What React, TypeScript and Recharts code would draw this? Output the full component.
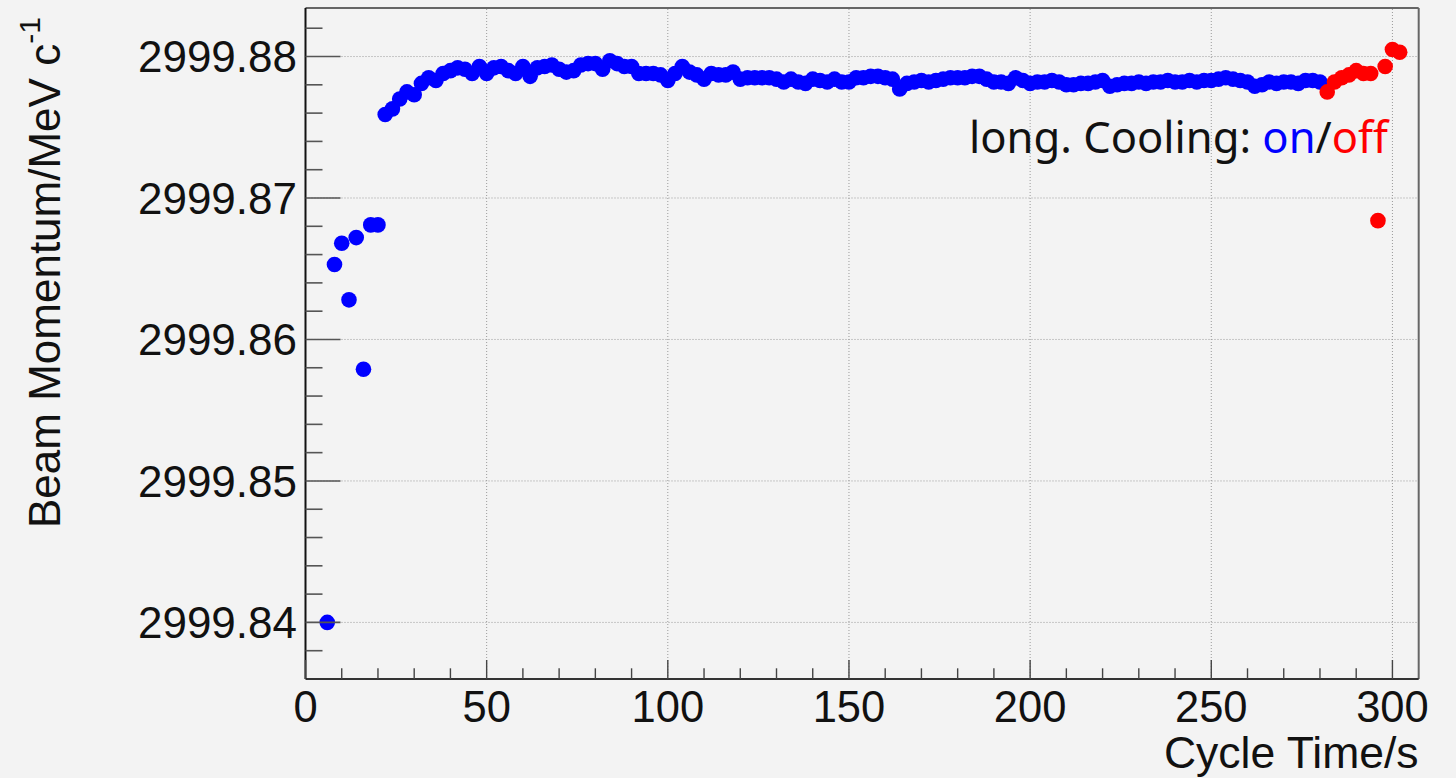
import React from 'react';
import { ScatterChart, Scatter, XAxis, YAxis, ReferenceLine } from 'recharts';

// ---- data ----
const onTimes = [
  6, 8, 10, 12, 14, 16, 18, 20, 22, 24, 26, 28, 30, 32, 34, 36, 38, 40, 42, 44,
  46, 48, 50, 52, 54, 56, 58, 60, 62, 64, 66, 68, 70, 72, 74, 76, 78, 80, 82, 84,
  86, 88, 90, 92, 94, 96, 98, 100, 102, 104, 106, 108, 110, 112, 114, 116, 118, 120, 122, 124,
  126, 128, 130, 132, 134, 136, 138, 140, 142, 144, 146, 148, 150, 152, 154, 156, 158, 160, 162, 164,
  166, 168, 170, 172, 174, 176, 178, 180, 182, 184, 186, 188, 190, 192, 194, 196, 198, 200, 202, 204,
  206, 208, 210, 212, 214, 216, 218, 220, 222, 224, 226, 228, 230, 232, 234, 236, 238, 240, 242, 244,
  246, 248, 250, 252, 254, 256, 258, 260, 262, 264, 266, 268, 270, 272, 274, 276, 278, 280,
];
const onMomentum = [
  2999.8400, 2999.8653, 2999.8668, 2999.8628, 2999.8672, 2999.8579, 2999.8681, 2999.8681, 2999.8759, 2999.8763,
  2999.8770, 2999.8775, 2999.8773, 2999.8781, 2999.8785, 2999.8783, 2999.8788, 2999.8790, 2999.8792, 2999.8791,
  2999.8788, 2999.8793, 2999.8788, 2999.8792, 2999.8793, 2999.8790, 2999.8788, 2999.8793, 2999.8786, 2999.8792,
  2999.8793, 2999.8794, 2999.8791, 2999.8789, 2999.8790, 2999.8794, 2999.8795, 2999.8795, 2999.8791, 2999.8797,
  2999.8795, 2999.8793, 2999.8793, 2999.8788, 2999.8788, 2999.8788, 2999.8787, 2999.8783, 2999.8788, 2999.8793,
  2999.8789, 2999.8787, 2999.8784, 2999.8788, 2999.8787, 2999.8787, 2999.8789, 2999.8784, 2999.8785, 2999.8785,
  2999.8785, 2999.8785, 2999.8784, 2999.8782, 2999.8784, 2999.8782, 2999.8781, 2999.8784, 2999.8783, 2999.8782,
  2999.8784, 2999.8782, 2999.8782, 2999.8785, 2999.8785, 2999.8786, 2999.8786, 2999.8785, 2999.8784, 2999.8777,
  2999.8781, 2999.8782, 2999.8783, 2999.8782, 2999.8783, 2999.8784, 2999.8785, 2999.8785, 2999.8785, 2999.8786,
  2999.8786, 2999.8784, 2999.8782, 2999.8782, 2999.8781, 2999.8785, 2999.8783, 2999.8781, 2999.8782, 2999.8782,
  2999.8783, 2999.8782, 2999.8780, 2999.8780, 2999.8781, 2999.8781, 2999.8782, 2999.8783, 2999.8779, 2999.8780,
  2999.8781, 2999.8781, 2999.8782, 2999.8781, 2999.8782, 2999.8782, 2999.8783, 2999.8782, 2999.8782, 2999.8783,
  2999.8782, 2999.8783, 2999.8783, 2999.8784, 2999.8785, 2999.8784, 2999.8783, 2999.8782, 2999.8779, 2999.8780,
  2999.8782, 2999.8781, 2999.8782, 2999.8782, 2999.8781, 2999.8783, 2999.8783, 2999.8782,
];
const offTimes = [282, 284, 286, 288, 290, 292, 294, 296, 298, 300, 302];
const offMomentum = [
  2999.8775, 2999.8782, 2999.8785, 2999.8787, 2999.8790, 2999.8788, 2999.8788, 2999.8684, 2999.8793, 2999.8805, 2999.8803,
];

const xMajorTicks = [0, 50, 100, 150, 200, 250, 300];
const xTicks = [
  0, 10, 20, 30, 40, 50, 60, 70, 80, 90, 100, 110, 120, 130, 140, 150, 160, 170, 180, 190,
  200, 210, 220, 230, 240, 250, 260, 270, 280, 290, 300,
];
const yMajorTicks = [2999.84, 2999.85, 2999.86, 2999.87, 2999.88];
const yTicks = [
  2999.838, 2999.84, 2999.842, 2999.844, 2999.846, 2999.848, 2999.85, 2999.852, 2999.854, 2999.856,
  2999.858, 2999.86, 2999.862, 2999.864, 2999.866, 2999.868, 2999.87, 2999.872, 2999.874, 2999.876,
  2999.878, 2999.88, 2999.882,
];
const yTickLabels = ['2999.84', '2999.85', '2999.86', '2999.87', '2999.88'];

const X_DOMAIN: [number, number] = [0, 307.25];
const Y_DOMAIN: [number, number] = [2999.836, 2999.88343];

const onData = onTimes.map((t, i) => ({ t, v: onMomentum[i] }));
const offData = offTimes.map((t, i) => ({ t, v: offMomentum[i] }));

// ---- layout ----
const W = 1456;
const H = 778;
const LEFT = 305.5;
const TOP = 8;
const RIGHT_MARGIN = 37.3;
const BOTTOM = 679;
const FONT = '"Liberation Sans", Arial, Helvetica, sans-serif';
const BG = '#f3f3f3';

const isMajor = (list: number[], v: number) => list.some((m) => Math.abs(m - v) < 1e-7);

const XTick = (props: any) => {
  const { x, payload } = props;
  const v = payload.value;
  const major = isMajor(xMajorTicks, v);
  return (
    <g>
      <line x1={x} x2={x} y1={BOTTOM} y2={BOTTOM - (major ? 19 : 10.7)} stroke="#444" strokeWidth={1.4} />
      {major && (
        <text x={x} y={722} textAnchor="middle" fontFamily={FONT} fontSize={43.5} fill="#111">
          {v}
        </text>
      )}
    </g>
  );
};

const YTick = (props: any) => {
  const { y, payload } = props;
  const v = payload.value;
  const idx = yMajorTicks.findIndex((m) => Math.abs(m - v) < 1e-7);
  const major = idx >= 0;
  return (
    <g>
      <line x1={LEFT} x2={LEFT + (major ? 35 : 17)} y1={y} y2={y} stroke="#555" strokeWidth={1.6} />
      {major && (
        <text x={297} y={y + 15.8} textAnchor="end" fontFamily={FONT} fontSize={44} fill="#111">
          {yTickLabels[idx]}
        </text>
      )}
    </g>
  );
};

const Dot = (color: string) => (props: any) => (
  <circle cx={props.cx} cy={props.cy} r={7.8} fill={color} />
);

export default function App() {
  return (
    <div style={{ position: 'absolute', left: 0, top: 0, width: W, height: H, background: BG, overflow: 'hidden' }}>
      <ScatterChart
        width={W}
        height={H}
        margin={{ top: TOP, right: RIGHT_MARGIN, bottom: 0, left: 0 }}
        style={{ background: BG }}
      >
        <XAxis
          type="number"
          dataKey="t"
          domain={X_DOMAIN}
          allowDataOverflow
          ticks={xTicks}
          interval={0}
          tick={<XTick />}
          tickLine={false}
          height={H - BOTTOM}
          axisLine={{ stroke: '#333', strokeWidth: 2 }}
        />
        <YAxis
          type="number"
          dataKey="v"
          domain={Y_DOMAIN}
          allowDataOverflow
          ticks={yTicks}
          interval={0}
          tick={<YTick />}
          tickLine={false}
          width={LEFT}
          axisLine={{ stroke: '#111', strokeWidth: 2 }}
        />
        {xMajorTicks.filter((v) => v > 0).map((v) => (
          <ReferenceLine key={'gx' + v} x={v} stroke="#9a9a9a" strokeWidth={1} strokeDasharray="1 2" />
        ))}
        {yMajorTicks.map((v) => (
          <ReferenceLine key={'gy' + v} y={v} stroke="#9a9a9a" strokeWidth={1} strokeDasharray="1 2" />
        ))}
        <ReferenceLine x={X_DOMAIN[1]} stroke="#666" strokeWidth={2} />
        <ReferenceLine y={Y_DOMAIN[1]} stroke="#666" strokeWidth={2} />
        <Scatter data={onData} fill="#0000ff" shape={Dot('#0000ff')} isAnimationActive={false} />
        <Scatter data={offData} fill="#ff0000" shape={Dot('#ff0000')} isAnimationActive={false} />
      </ScatterChart>
      <svg
        width={W}
        height={H}
        style={{ position: 'absolute', left: 0, top: 0, pointerEvents: 'none' }}
      >
        <text x={1418.6} y={768} textAnchor="end" fontFamily={FONT} fontSize={44.5} fill="#111">
          Cycle Time/s
        </text>
        <text
          x={0}
          y={0}
          transform="translate(60,528) rotate(-90)"
          textAnchor="start"
          fontFamily={FONT}
          fontSize={44}
          fill="#111"
        >
          Beam Momentum/MeV c
          <tspan fontSize={30} dy={-20}>-1</tspan>
        </text>
        <text x={1388} y={153} textAnchor="end" fontFamily="'Noto Sans', 'Open Sans', sans-serif" fontSize={43.5} fill="#111">
          long. Cooling: <tspan fill="#0000ff">on</tspan>/<tspan fill="#ff0000">off</tspan>
        </text>
      </svg>
    </div>
  );
}
